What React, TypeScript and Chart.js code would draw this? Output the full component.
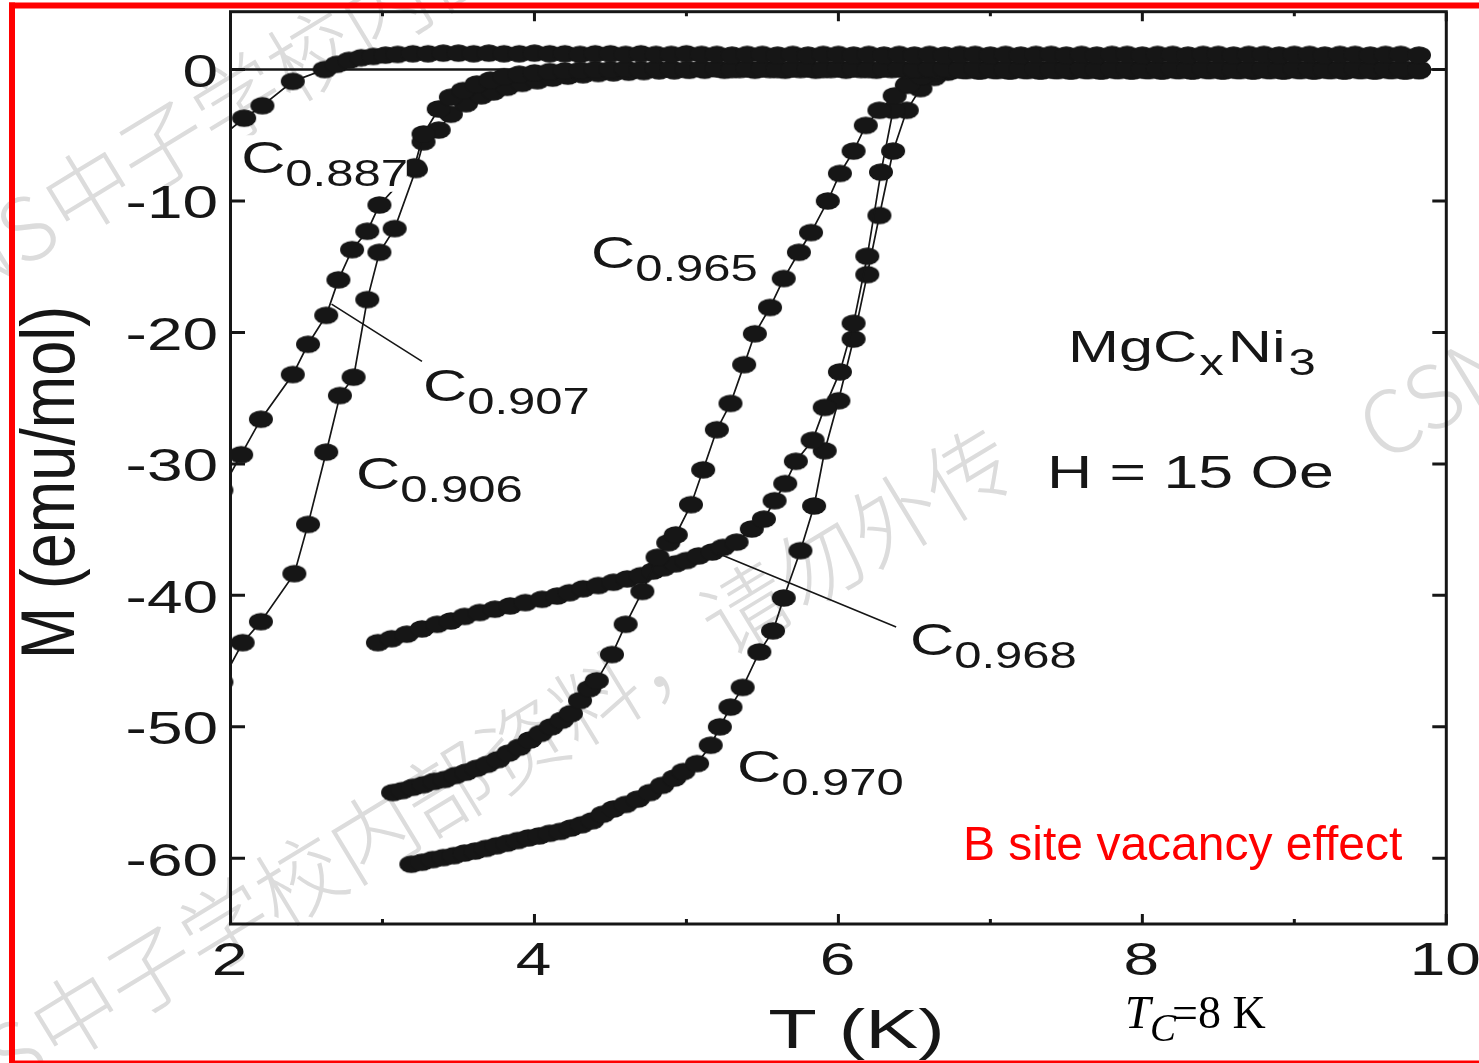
import { useEffect, useRef } from "react";
import { Chart, registerables } from "chart.js";

Chart.register(...registerables);

// Each point: [T (K), M (emu/mol)]
type Pt = [number, number];

const c0887: Pt[] = [
  [1.92, -5.3], [2.09, -3.7], [2.21, -2.75], [2.41, -0.9], [2.62, 0.0], [2.70, 0.4], [2.78, 0.7], [2.86, 0.9],
  [2.94, 1.0], [3.02, 1.1], [3.10, 1.15], [3.20, 1.2], [3.30, 1.2], [3.40, 1.25], [3.50, 1.25], [3.60, 1.2],
  [3.70, 1.25], [3.80, 1.2], [3.90, 1.2], [4.00, 1.25], [4.10, 1.2], [4.20, 1.2], [4.30, 1.15], [4.40, 1.2],
  [4.50, 1.2], [4.60, 1.15], [4.70, 1.2], [4.80, 1.15], [4.90, 1.15], [5.00, 1.2], [5.10, 1.15], [5.20, 1.15],
  [5.30, 1.1], [5.40, 1.15], [5.50, 1.15], [5.60, 1.1], [5.70, 1.15], [5.80, 1.1], [5.90, 1.15], [6.00, 1.15],
  [6.10, 1.1], [6.20, 1.15], [6.30, 1.1], [6.40, 1.15], [6.50, 1.1], [6.60, 1.15], [6.70, 1.1], [6.80, 1.15],
  [6.90, 1.15], [7.00, 1.1], [7.10, 1.15], [7.20, 1.1], [7.30, 1.15], [7.40, 1.15], [7.50, 1.1], [7.60, 1.15],
  [7.70, 1.1], [7.80, 1.15], [7.90, 1.15], [8.00, 1.1], [8.10, 1.15], [8.20, 1.15], [8.30, 1.1], [8.40, 1.15],
  [8.50, 1.15], [8.60, 1.1], [8.70, 1.15], [8.80, 1.15], [8.90, 1.1], [9.00, 1.15], [9.10, 1.15], [9.20, 1.1],
  [9.30, 1.15], [9.40, 1.15], [9.50, 1.1], [9.60, 1.15], [9.70, 1.15], [9.82, 1.1],
];

const c0907: Pt[] = [
  [1.94, -32.0], [2.07, -29.3], [2.20, -26.6], [2.41, -23.2], [2.51, -20.9], [2.63, -18.7], [2.71, -16.0],
  [2.80, -13.7], [2.90, -12.3], [2.98, -10.3], [3.21, -7.4], [3.27, -4.9], [3.37, -3.0], [3.45, -2.1],
  [3.53, -1.6], [3.62, -1.1], [3.71, -0.8], [3.80, -0.55], [3.90, -0.35], [4.00, -0.25], [4.10, -0.15],
  [4.20, -0.1], [4.30, -0.05], [4.40, 0.0], [4.50, 0.0], [4.60, 0.05], [4.70, 0.0], [4.80, 0.05], [4.90, 0.05],
  [5.00, 0.0], [5.10, 0.05], [5.20, 0.05], [5.30, 0.0], [5.40, 0.05], [5.50, 0.05], [5.60, 0.0], [5.70, 0.05],
  [5.80, 0.05], [5.90, 0.0], [6.00, 0.05], [6.10, 0.05], [6.20, 0.0], [6.30, 0.05], [6.40, 0.05], [6.50, 0.0],
  [6.60, 0.05], [6.70, 0.05], [6.80, 0.0], [6.90, 0.05], [7.00, 0.05], [7.10, 0.0], [7.20, 0.05], [7.30, 0.05],
  [7.40, 0.0], [7.50, 0.05], [7.60, 0.05], [7.70, 0.0], [7.80, 0.05], [7.90, 0.05], [8.00, 0.0], [8.10, 0.05],
  [8.20, 0.05], [8.30, 0.0], [8.40, 0.05], [8.50, 0.05], [8.60, 0.0], [8.70, 0.05], [8.80, 0.05], [8.90, 0.0],
  [9.00, 0.05], [9.10, 0.05], [9.20, 0.0], [9.30, 0.05], [9.40, 0.05], [9.50, 0.0], [9.60, 0.05], [9.70, 0.05],
  [9.82, 0.0],
];

const c0906: Pt[] = [
  [1.94, -46.6], [2.08, -43.6], [2.20, -42.0], [2.42, -38.35], [2.51, -34.6], [2.63, -29.1], [2.72, -24.8],
  [2.81, -23.4], [2.90, -17.5], [2.98, -13.9], [3.08, -12.1], [3.22, -7.6], [3.27, -5.5], [3.37, -4.6],
  [3.45, -3.4], [3.55, -2.6], [3.65, -2.0], [3.73, -1.7], [3.82, -1.35], [3.92, -1.05], [4.02, -0.85],
  [4.12, -0.65], [4.22, -0.5], [4.32, -0.4], [4.42, -0.3], [4.52, -0.25], [4.62, -0.2], [4.72, -0.15],
  [4.82, -0.1], [4.92, -0.1], [5.02, -0.05], [5.12, -0.05], [5.25, -0.05], [5.35, 0.0], [5.45, -0.05],
  [5.55, 0.0], [5.65, -0.05], [5.75, 0.0], [5.85, -0.05], [5.95, 0.0], [6.05, -0.05], [6.15, 0.0], [6.25, -0.05],
  [6.35, 0.0], [6.45, -0.05], [6.55, 0.0], [6.65, -0.05], [6.75, 0.0], [6.85, -0.05], [6.95, 0.0], [7.05, -0.05],
  [7.15, 0.0], [7.25, -0.05], [7.35, 0.0], [7.45, -0.05], [7.55, 0.0], [7.65, -0.05], [7.75, 0.0], [7.85, -0.05],
  [7.95, 0.0], [8.05, -0.05], [8.15, 0.0], [8.25, -0.05], [8.35, 0.0], [8.45, -0.05], [8.55, 0.0], [8.65, -0.05],
  [8.75, 0.0], [8.85, -0.05], [8.95, 0.0], [9.05, -0.05], [9.15, 0.0], [9.25, -0.05], [9.35, 0.0], [9.45, -0.05],
  [9.55, 0.0], [9.65, -0.05], [9.75, 0.0], [9.82, -0.05],
];

const c0965: Pt[] = [
  [3.07, -55.0], [3.13, -54.85], [3.20, -54.6], [3.27, -54.4], [3.34, -54.15], [3.41, -54.0], [3.48, -53.7],
  [3.55, -53.45], [3.62, -53.15], [3.69, -52.85], [3.76, -52.5], [3.83, -52.0], [3.90, -51.55], [3.97, -51.0],
  [4.04, -50.5], [4.11, -50.0], [4.18, -49.5], [4.24, -49.0], [4.30, -48.0], [4.36, -47.1], [4.41, -46.5],
  [4.51, -44.5], [4.60, -42.2], [4.71, -39.7], [4.81, -37.1], [4.88, -36.0], [4.93, -35.4], [5.03, -33.1],
  [5.11, -30.45], [5.20, -27.4], [5.29, -25.4], [5.38, -22.45], [5.45, -20.1], [5.55, -18.1], [5.64, -15.9],
  [5.74, -13.9], [5.82, -12.4], [5.93, -10.0], [6.01, -7.9], [6.10, -6.2], [6.18, -4.25], [6.27, -3.1],
  [6.37, -2.0], [6.46, -1.1], [6.55, -0.5], [6.65, -0.2], [6.75, -0.05], [6.82, 0.0], [6.92, -0.05], [7.02, 0.0],
  [7.12, -0.05], [7.22, 0.0], [7.32, -0.05], [7.42, 0.0], [7.52, -0.05], [7.62, 0.0], [7.72, -0.05], [7.82, 0.0],
  [7.92, -0.05], [8.02, 0.0], [8.12, -0.05], [8.22, 0.0], [8.32, -0.05], [8.42, 0.0], [8.52, -0.05], [8.62, 0.0],
  [8.72, -0.05], [8.82, 0.0], [8.92, -0.05], [9.02, 0.0], [9.12, -0.05], [9.22, 0.0], [9.32, -0.05], [9.42, 0.0],
  [9.52, -0.05], [9.62, 0.0], [9.72, -0.05], [9.82, 0.0],
];

const c0968: Pt[] = [
  [2.97, -43.6], [3.06, -43.3], [3.16, -42.95], [3.26, -42.55], [3.36, -42.2], [3.45, -41.95], [3.54, -41.6],
  [3.64, -41.3], [3.74, -41.05], [3.84, -40.8], [3.94, -40.55], [4.05, -40.3], [4.15, -40.05], [4.23, -39.8],
  [4.32, -39.5], [4.42, -39.25], [4.52, -39.0], [4.61, -38.75], [4.70, -38.5], [4.78, -38.15], [4.85, -37.9],
  [4.93, -37.6], [5.00, -37.35], [5.08, -37.0], [5.17, -36.7], [5.24, -36.35], [5.33, -35.95], [5.43, -34.95],
  [5.51, -34.2], [5.58, -32.8], [5.65, -31.5], [5.72, -29.8], [5.83, -28.2], [5.91, -25.7], [6.01, -23.0],
  [6.10, -19.3], [6.19, -14.2], [6.28, -7.8], [6.36, -3.1], [6.45, -1.2], [6.54, -0.5], [6.64, -0.2],
  [6.74, -0.05], [6.84, -0.05], [6.94, -0.1], [7.04, -0.05], [7.14, -0.1], [7.24, -0.05], [7.34, -0.1],
  [7.44, -0.05], [7.54, -0.1], [7.64, -0.05], [7.74, -0.1], [7.84, -0.05], [7.94, -0.1], [8.04, -0.05],
  [8.14, -0.1], [8.24, -0.05], [8.34, -0.1], [8.44, -0.05], [8.54, -0.1], [8.64, -0.05], [8.74, -0.1],
  [8.84, -0.05], [8.94, -0.1], [9.04, -0.05], [9.14, -0.1], [9.24, -0.05], [9.34, -0.1], [9.44, -0.05],
  [9.54, -0.1], [9.64, -0.05], [9.74, -0.1], [9.82, -0.05],
];

const c0970: Pt[] = [
  [3.19, -60.45], [3.26, -60.3], [3.33, -60.1], [3.40, -59.95], [3.47, -59.8], [3.54, -59.6], [3.61, -59.45],
  [3.68, -59.25], [3.75, -59.05], [3.82, -58.85], [3.89, -58.65], [3.96, -58.45], [4.03, -58.3], [4.10, -58.1],
  [4.17, -57.95], [4.24, -57.7], [4.31, -57.45], [4.38, -57.15], [4.45, -56.65], [4.52, -56.25], [4.60, -55.9],
  [4.68, -55.5], [4.76, -55.0], [4.84, -54.45], [4.92, -53.9], [4.98, -53.4], [5.07, -52.8], [5.16, -51.4],
  [5.22, -50.0], [5.29, -48.5], [5.37, -47.0], [5.48, -44.3], [5.57, -42.7], [5.64, -40.2], [5.75, -36.6],
  [5.84, -33.2], [5.91, -29.0], [6.00, -25.2], [6.10, -20.5], [6.19, -15.6], [6.27, -11.1], [6.36, -6.2],
  [6.45, -3.1], [6.54, -1.45], [6.63, -0.6], [6.72, -0.2], [6.82, -0.05], [6.92, -0.1], [7.02, -0.05],
  [7.12, -0.1], [7.22, -0.05], [7.32, -0.1], [7.42, -0.05], [7.52, -0.1], [7.62, -0.05], [7.72, -0.1],
  [7.82, -0.05], [7.92, -0.1], [8.02, -0.05], [8.12, -0.1], [8.22, -0.05], [8.32, -0.1], [8.42, -0.05],
  [8.52, -0.1], [8.62, -0.05], [8.72, -0.1], [8.82, -0.05], [8.92, -0.1], [9.02, -0.05], [9.12, -0.1],
  [9.22, -0.05], [9.32, -0.1], [9.42, -0.05], [9.52, -0.1], [9.62, -0.05], [9.72, -0.1], [9.82, -0.05],
];

const seriesList = [c0887, c0907, c0906, c0965, c0968, c0970];

// Axis ticks
const xMajorTicks = [2, 4, 6, 8, 10];
const xMinorTicks = [3, 5, 7, 9];
const yTicks = [0, -10, -20, -30, -40, -50, -60];

// Curve labels: "C" with a subscript, anchored at (T, M) of the left baseline
const curveLabels = [
  { sub: "0.887", t: 2.07, m: -7.86 },
  { sub: "0.965", t: 4.372, m: -15.08 },
  { sub: "0.907", t: 3.267, m: -25.18 },
  { sub: "0.906", t: 2.826, m: -31.94 },
  { sub: "0.968", t: 6.471, m: -44.56 },
  { sub: "0.970", t: 5.333, m: -54.2 },
];

// Leader lines from a curve to its label, in (T, M)
const leaders: [Pt, Pt][] = [
  [[2.665, -17.85], [3.26, -22.2]],
  [[5.205, -36.8], [6.38, -42.4]],
];

const INK = "#161616";
const SANS = '"Liberation Sans", Arial, Helvetica, sans-serif';
const SERIF = '"Liberation Serif", "Times New Roman", serif';
const SX = 1.36; // horizontal stretch of the figure lettering

const WM_CJK = "中子学校内部资料，请勿外传";
const WM_LATIN = "CSNS";

function makeDot(): HTMLCanvasElement {
  const c = document.createElement("canvas");
  c.width = 26;
  c.height = 20;
  const g = c.getContext("2d")!;
  g.fillStyle = INK;
  g.beginPath();
  g.ellipse(13, 10, 12, 8.8, 0, 0, Math.PI * 2);
  g.fill();
  return c;
}

function drawText(
  ctx: CanvasRenderingContext2D,
  s: string,
  x: number,
  y: number,
  font: string,
  sx = 1,
  align: CanvasTextAlign = "left",
  color = INK
): number {
  ctx.save();
  ctx.translate(x, y);
  ctx.scale(sx, 1);
  ctx.font = font;
  ctx.fillStyle = color;
  ctx.textAlign = align;
  ctx.textBaseline = "alphabetic";
  ctx.fillText(s, 0, 0);
  const w = ctx.measureText(s).width * sx;
  ctx.restore();
  return w;
}

function drawWatermark(ctx: CanvasRenderingContext2D, cx: number, cy: number) {
  ctx.save();
  ctx.translate(cx, cy);
  ctx.rotate((-31.3 * Math.PI) / 180);
  ctx.font = `300 87px "Noto Sans CJK SC", sans-serif`;
  ctx.fillStyle = "#dcdcdc";
  ctx.textBaseline = "middle";
  ctx.textAlign = "left";
  ctx.fillText(WM_CJK, -43.5, 0);
  ctx.textAlign = "right";
  ctx.fillText(WM_LATIN, -47, 0);
  ctx.restore();
}

const decor = {
  id: "decor",
  beforeDraw(chart: Chart) {
    const ctx = chart.ctx;
    ctx.save();
    ctx.fillStyle = "#ffffff";
    ctx.fillRect(0, 0, chart.width, chart.height);
    drawWatermark(ctx, 88, 190);
    drawWatermark(ctx, 76, 1015);
    drawWatermark(ctx, 1590, 300);
    ctx.restore();
  },
  beforeDatasetsDraw(chart: Chart) {
    const ctx = chart.ctx;
    const { left, right } = chart.chartArea;
    const y0 = chart.scales.y.getPixelForValue(0);
    ctx.save();
    ctx.strokeStyle = INK;
    ctx.lineWidth = 2.5;
    ctx.beginPath();
    ctx.moveTo(left, y0);
    ctx.lineTo(right, y0);
    ctx.stroke();
    ctx.restore();
  },
  afterDatasetsDraw(chart: Chart) {
    const ctx = chart.ctx;
    const xs = chart.scales.x;
    const ys = chart.scales.y;
    const px = (t: number) => xs.getPixelForValue(t);
    const py = (m: number) => ys.getPixelForValue(m);
    const { left, right, top, bottom } = chart.chartArea;

    ctx.save();

    // white backing behind the C0.887 label
    ctx.fillStyle = "#ffffff";
    ctx.fillRect(px(2.04), py(-5.0), px(3.16) - px(2.04), py(-9.3) - py(-5.0));

    // frame
    ctx.strokeStyle = INK;
    ctx.lineWidth = 3;
    ctx.strokeRect(left, top, right - left, bottom - top);

    // inward ticks
    ctx.beginPath();
    for (const v of yTicks) {
      const y = py(v);
      ctx.moveTo(left, y);
      ctx.lineTo(left + 14.5, y);
      ctx.moveTo(right, y);
      ctx.lineTo(right - 14, y);
    }
    for (const v of xMajorTicks) {
      const x = px(v);
      ctx.moveTo(x, top);
      ctx.lineTo(x, top + 9.5);
      ctx.moveTo(x, bottom);
      ctx.lineTo(x, bottom - 10);
    }
    for (const v of xMinorTicks) {
      const x = px(v);
      ctx.moveTo(x, top);
      ctx.lineTo(x, top + 4.5);
      ctx.moveTo(x, bottom);
      ctx.lineTo(x, bottom - 5);
    }
    ctx.stroke();

    // tick labels
    const tickFont = `47px ${SANS}`;
    for (const v of yTicks) {
      drawText(ctx, String(v), 218, py(v) + 17.5, tickFont, SX, "right");
    }
    for (const v of xMajorTicks) {
      drawText(ctx, String(v), px(v) - 1, 975, tickFont, SX, "center");
    }

    // axis titles
    drawText(ctx, "T (K)", 856.5, 1048, `56px ${SANS}`, 1.42, "center");
    ctx.save();
    ctx.translate(74, 482.5);
    ctx.rotate(-Math.PI / 2);
    ctx.scale(1, 1.22);
    ctx.font = `63px ${SANS}`;
    ctx.fillStyle = INK;
    ctx.textAlign = "center";
    ctx.textBaseline = "alphabetic";
    ctx.fillText("M (emu/mol)", 0, 0);
    ctx.restore();

    // leader lines
    ctx.lineWidth = 1.6;
    ctx.beginPath();
    for (const [a, b] of leaders) {
      ctx.moveTo(px(a[0]), py(a[1]));
      ctx.lineTo(px(b[0]), py(b[1]));
    }
    ctx.stroke();

    // curve labels
    for (const l of curveLabels) {
      const x = px(l.t);
      const y = py(l.m);
      const w = drawText(ctx, "C", x, y, `45px ${SANS}`, SX);
      drawText(ctx, l.sub, x + w, y + 13, `36px ${SANS}`, SX);
    }

    // sample and field
    {
      let x = 1068;
      const y = 362;
      x += drawText(ctx, "MgC", x, y, `45px ${SANS}`, SX);
      x += drawText(ctx, "x", x + 2, y + 13, `36px ${SANS}`, SX) + 6;
      x += drawText(ctx, "Ni", x, y, `45px ${SANS}`, SX);
      drawText(ctx, "3", x + 3, y + 13, `36px ${SANS}`, SX);
    }
    drawText(ctx, "H = 15 Oe", 1047, 488, `46px ${SANS}`, SX);

    drawText(ctx, "B site vacancy effect", 963, 860, `48px ${SANS}`, 1, "left", "#ff0000");

    // T_C = 8 K
    drawText(ctx, "T", 1125, 1028, `italic 46px ${SERIF}`, 1, "left", "#000000");
    drawText(ctx, "C", 1150, 1041, `italic 39px ${SERIF}`, 1, "left", "#000000");
    drawText(ctx, "=8 K", 1172, 1028, `46px ${SERIF}`, 1, "left", "#000000");

    // red outline
    ctx.fillStyle = "#ff0000";
    ctx.fillRect(9, 2.5, chart.width - 9, 6);
    ctx.fillRect(9, 2.5, 6, chart.height - 2.5);
    ctx.fillRect(9, chart.height - 2.5, chart.width - 9, 2.5);

    ctx.restore();
  },
};

export default function App() {
  const ref = useRef<HTMLCanvasElement>(null);

  useEffect(() => {
    const canvas = ref.current;
    if (!canvas) return;
    const dot = makeDot();
    const chart = new Chart(canvas, {
      type: "line",
      data: {
        datasets: seriesList.map((s) => ({
          data: s.map(([x, y]) => ({ x, y })),
          borderColor: INK,
          borderWidth: 1.7,
          backgroundColor: INK,
          pointStyle: dot,
          pointRadius: 10,
          pointHoverRadius: 10,
          fill: false,
          tension: 0,
        })),
      },
      options: {
        responsive: false,
        animation: false,
        events: [],
        layout: { padding: { left: 230.5, right: 32.7, top: 10.5, bottom: 139 } },
        plugins: { legend: { display: false }, tooltip: { enabled: false } },
        scales: {
          x: { type: "linear", min: 2, max: 10, display: false },
          y: { type: "linear", min: -65, max: 4.4, display: false },
        },
      },
      plugins: [decor],
    });
    return () => chart.destroy();
  }, []);

  return (
    <div style={{ position: "absolute", left: 0, top: 0, width: 1479, height: 1063, background: "#fff" }}>
      <canvas ref={ref} width={1479} height={1063} style={{ display: "block" }} />
    </div>
  );
}
